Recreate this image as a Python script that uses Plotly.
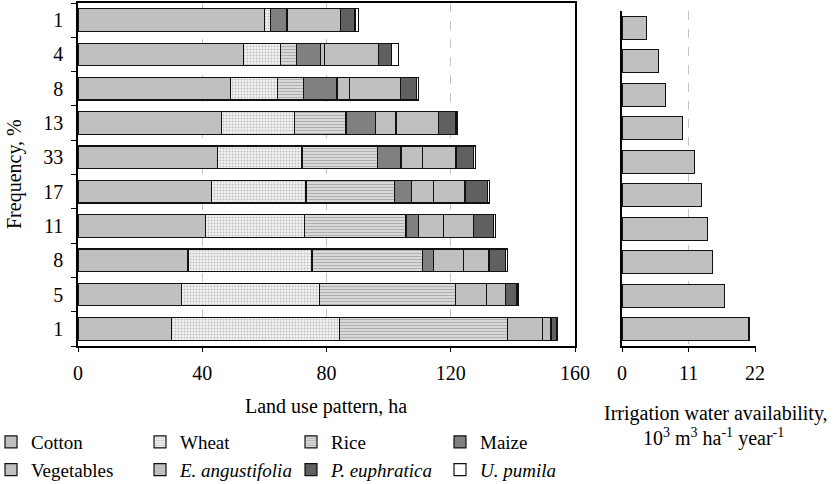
import plotly.graph_objects as go

W, H = 838, 484

freq_labels = ["1", "4", "8", "13", "33", "17", "11", "8", "5", "1"]
cotton = [60.0, 53.4, 49.2, 46.3, 45.0, 43.0, 41.0, 35.4, 33.3, 30.0]
wheat = [1.9, 11.7, 14.9, 23.3, 27.1, 30.4, 32.0, 39.9, 44.4, 54.1]
rice = [0.0, 5.2, 8.4, 16.7, 24.3, 28.4, 32.6, 35.7, 43.7, 54.2]
maize = [5.4, 7.7, 10.9, 9.6, 7.6, 5.5, 4.0, 3.5, 0.0, 0.0]
vegetables = [0.0, 1.4, 3.9, 6.5, 6.9, 7.1, 8.1, 9.7, 10.2, 11.3]
e_angustifolia = [17.3, 17.4, 16.6, 13.7, 10.8, 10.2, 9.7, 8.1, 6.1, 2.7]
p_euphratica = [4.6, 4.2, 5.2, 5.6, 5.6, 7.2, 6.3, 5.4, 3.6, 1.7]
u_pumila = [1.2, 2.3, 0.4, 0.5, 0.6, 0.6, 0.8, 0.5, 0.4, 0.2]
water = [4.0, 6.05, 7.15, 9.97, 12.05, 13.1, 14.1, 15.0, 17.0, 21.0]

land_ticks = [0, 40, 80, 120, 160]
water_ticks = [0, 11, 22]

rows = list(range(len(freq_labels)))
FONT = "Liberation Serif, Times New Roman, serif"
FS = 20
LFS = 19

series = [
    ("Cotton", cotton, dict(color="#c0c0c0"), "legend"),
    ("Wheat", wheat, dict(color="white", pattern=dict(shape=".", fgcolor="#8c8c8c", bgcolor="#f2f2f2", size=3, solidity=0.35)), "legend2"),
    ("Rice", rice, dict(color="white", pattern=dict(shape="-", fgcolor="#606060", bgcolor="white", size=3, solidity=0.65)), "legend3"),
    ("Maize", maize, dict(color="#808080"), "legend4"),
    ("Vegetables", vegetables, dict(color="#c0c0c0"), "legend"),
    ("<i>E. angustifolia</i>", e_angustifolia, dict(color="#c0c0c0"), "legend2"),
    ("<i>P. euphratica</i>", p_euphratica, dict(color="#606060"), "legend3"),
    ("<i>U. pumila</i>", u_pumila, dict(color="white"), "legend4"),
]

fig = go.Figure()
for name, vals, mk, leg in series:
    m = dict(mk)
    m["line"] = dict(color="#111111", width=1.2)
    fig.add_trace(go.Bar(x=vals, y=rows, orientation="h", width=0.66, name=name,
                         marker=m, legend=leg, xaxis="x", yaxis="y"))

fig.add_trace(go.Bar(x=water, y=rows, orientation="h", width=0.68, showlegend=False,
                     marker=dict(color="#c0c0c0", line=dict(color="#111111", width=1.2)),
                     xaxis="x2", yaxis="y2"))

def px_x(p):
    return p / W

def px_y(p):
    return (H - p) / H

grid = dict(showgrid=True, gridcolor="#c4c4c4", griddash="dash", gridwidth=1.3)
tickfont = dict(family=FONT, size=FS, color="black")

fig.update_layout(
    width=W, height=H, margin=dict(l=0, r=0, t=0, b=0, autoexpand=False),
    paper_bgcolor="white", plot_bgcolor="white", barmode="stack",
    font=dict(family=FONT, size=FS, color="black"),
    xaxis=dict(domain=[px_x(78), px_x(575)], range=[0, 160], tickvals=land_ticks,
               showline=True, linecolor="black", linewidth=1.5, mirror=True,
               ticks="outside", ticklen=4, tickcolor="black", zeroline=False,
               anchor="y", ticklabelstandoff=4, tickfont=tickfont, **grid),
    yaxis=dict(domain=[px_y(346), px_y(3)], range=[9.5, -0.5], tickmode="array",
               tickvals=rows, ticktext=freq_labels, ticks="", showgrid=False,
               showline=True, linecolor="black", linewidth=1.5, mirror=True,
               zeroline=False, anchor="x", ticklabelstandoff=9, tickfont=tickfont,
               minor=dict(tickmode="array", tickvals=[i + 0.5 for i in range(-1, 10)],
                          ticks="outside", ticklen=5, tickcolor="black", showgrid=False)),
    xaxis2=dict(domain=[px_x(622), px_x(755.5)], range=[0, 22.08], tickvals=water_ticks,
                showline=True, linecolor="black", linewidth=1.5,
                ticks="outside", ticklen=4, tickcolor="black", zeroline=False,
                anchor="y2", ticklabelstandoff=4, tickfont=tickfont, **grid),
    yaxis2=dict(domain=[px_y(346), px_y(11)], range=[9.5, -0.5], showticklabels=False,
                ticks="", showgrid=False, showline=True, linecolor="black", linewidth=1.5,
                zeroline=False, anchor="x2"),
)

leg_common = dict(xanchor="left", yanchor="top", orientation="v", bgcolor="rgba(0,0,0,0)",
                  font=dict(family=FONT, size=LFS, color="black"), itemwidth=30,
                  traceorder="normal", y=px_y(423))
fig.update_layout(
    legend=dict(x=px_x(-9), **leg_common),
    legend2=dict(x=px_x(140), **leg_common),
    legend3=dict(x=px_x(291), **leg_common),
    legend4=dict(x=px_x(440), **leg_common),
)

ann = dict(xref="paper", yref="paper", showarrow=False, font=dict(family=FONT, size=FS, color="black"))
fig.add_annotation(text="Land use pattern, ha", x=px_x(326), y=px_y(406), xanchor="center", yanchor="middle", **ann)
fig.add_annotation(text="Irrigation water availability,", x=px_x(716), y=px_y(413), xanchor="center", yanchor="middle", **ann)
fig.add_annotation(text="10<sup>3</sup> m<sup>3</sup> ha<sup>-1</sup> year<sup>-1</sup>", x=px_x(713), y=px_y(437), xanchor="center", yanchor="middle", **ann)
fig.add_annotation(text="Frequency, %", x=px_x(14), y=px_y(174), xanchor="center", yanchor="middle", textangle=-90, **ann)

fig.write_html("out.html")
